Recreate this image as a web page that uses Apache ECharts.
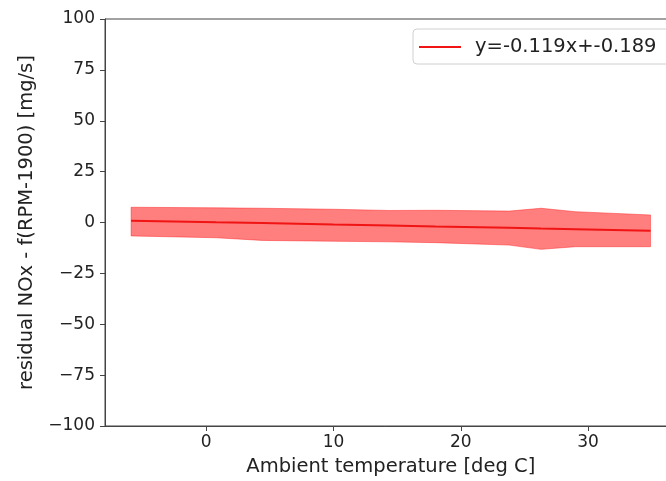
<!DOCTYPE html>
<html>
<head>
<meta charset="utf-8">
<script src="https://cdn.jsdelivr.net/npm/echarts@6/dist/echarts.min.js"></script>
<style>
html,body{margin:0;padding:0;background:#fff;}
#chart{width:666px;height:481px;}
</style>
</head>
<body>
<div id="chart"></div>
<script>
// Ambient temperature sample points [deg C]
const temps = [-5.9, 0.8, 4.4, 10, 14.4, 18, 23.8, 26.3, 29, 34.9];
// Upper and lower bounds of the shaded band [mg/s]
const upperBand = [7.5, 7.2, 7.0, 6.5, 5.9, 6.0, 5.6, 7.0, 5.3, 3.7];
const lowerBand = [-6.6, -7.5, -8.8, -9.2, -9.5, -9.9, -11.1, -13.2, -11.9, -11.9];
// Fitted line values [mg/s]
const fitLine = [0.9, 0.1, -0.3, -1.0, -1.5, -2.0, -2.6, -3.0, -3.3, -4.0];
const fitLabel = 'y=-0.119x+-0.189';
const xTicks = [0, 10, 20, 30];

const FONT = 'DejaVu Sans';
const minusFmt = v => String(v).replace('-', '\u2212');

const chart = echarts.init(document.getElementById('chart'), null, {renderer: 'canvas'});
chart.setOption({
  animation: false,
  backgroundColor: '#fff',
  textStyle: {fontFamily: FONT},
  grid: {left: 105, top: 19, width: 571.6, height: 407, outerBoundsMode: 'none', containLabel: false,
         show: true, borderColor: '#444', borderWidth: 1, backgroundColor: 'transparent'},
  legend: {
    left: 413, top: 29,
    data: [fitLabel],
    icon: 'rect', itemWidth: 42, itemHeight: 2,
    padding: [8, 14, 7, 6],
    borderColor: '#d0d0d0', borderWidth: 1, borderRadius: 4,
    backgroundColor: '#fff',
    textStyle: {fontSize: 19.5, color: '#222', fontFamily: FONT, padding: [0, 0, 0, 9]}
  },
  xAxis: {
    type: 'value', min: -7.95, max: 36.95,
    name: 'Ambient temperature [deg C]', nameLocation: 'middle', nameGap: 31,
    nameTextStyle: {fontSize: 19.5, color: '#222', fontFamily: FONT},
    axisLine: {show: true, onZero: false, lineStyle: {color: '#444', width: 1}},
    axisTick: {show: true, inside: false, length: 5, lineStyle: {color: '#444'}, customValues: xTicks},
    axisLabel: {fontSize: 17, color: '#222', margin: 8, fontFamily: FONT, customValues: xTicks, formatter: minusFmt},
    splitLine: {show: false}
  },
  yAxis: {
    type: 'value', min: -100, max: 100, interval: 25,
    name: 'residual NOx - f(RPM-1900) [mg/s]', nameLocation: 'middle', nameGap: 63, nameRotate: 90,
    nameTextStyle: {fontSize: 19.5, color: '#222', fontFamily: FONT},
    axisLine: {show: true, onZero: false, lineStyle: {color: '#444', width: 1}},
    axisTick: {show: true, inside: false, length: 5, lineStyle: {color: '#444'}},
    axisLabel: {fontSize: 17, color: '#222', margin: 10, fontFamily: FONT, formatter: minusFmt},
    splitLine: {show: false}
  },
  series: [
    {
      name: 'band', type: 'custom', silent: true, z: 1,
      data: temps.map((t, i) => [t, lowerBand[i], upperBand[i]]),
      encode: {x: 0, y: [1, 2]},
      renderItem: function (params, api) {
        if (params.dataIndex !== 0) return null;
        const pts = [];
        for (let i = 0; i < temps.length; i++) pts.push(api.coord([temps[i], upperBand[i]]));
        for (let i = temps.length - 1; i >= 0; i--) pts.push(api.coord([temps[i], lowerBand[i]]));
        return {
          type: 'polygon',
          shape: {points: pts},
          style: {fill: 'rgba(255,20,20,0.55)', stroke: 'rgba(255,20,20,0.55)', lineWidth: 0.8}
        };
      }
    },
    {
      name: fitLabel, type: 'line',
      data: temps.map((t, i) => [t, fitLine[i]]),
      symbol: 'none', color: '#f01414',
      lineStyle: {color: '#f01414', width: 2}, z: 3
    }
  ]
});
</script>
</body>
</html>
